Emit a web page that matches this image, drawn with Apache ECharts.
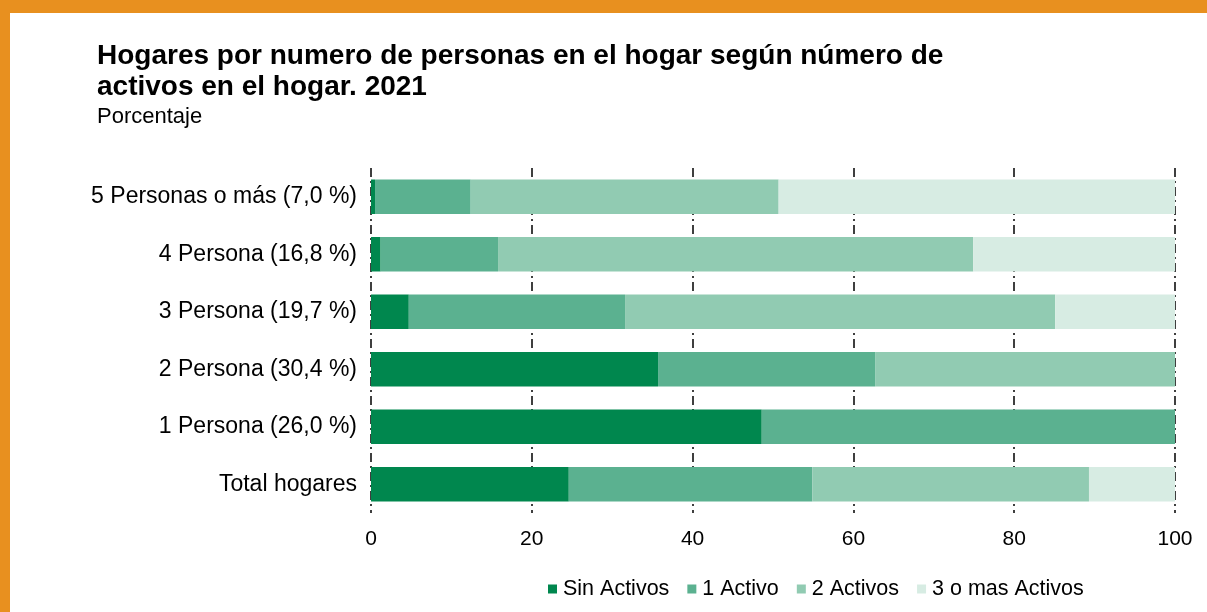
<!DOCTYPE html>
<html lang="es">
<head>
    <meta charset="UTF-8">
    <title>hogares activos</title>
    <script src="https://cdn.jsdelivr.net/npm/echarts@6/dist/echarts.min.js"></script>
    <style>
        body {
            margin: 0;
            background: #e8901f;
        }
        #chart {
            position: absolute;
            left: 10px;
            top: 13px;
            width: 1197px;
            height: 599px;
            background: #ffffff;
        }
    </style>
</head>
<body>
<div id="chart"></div>
<script>
    // categorias de arriba hacia abajo
    var categorias = ['5 Personas o más (7,0 %)', '4 Persona (16,8 %)', '3 Persona (19,7 %)',
        '2 Persona (30,4 %)', '1 Persona (26,0 %)', 'Total hogares'];
    var sinActivos = [0.5, 1.2, 4.7, 35.7, 48.6, 24.6];
    var unActivo = [11.9, 14.6, 26.9, 27.0, 51.4, 30.3];
    var dosActivos = [38.3, 59.1, 53.5, 37.3, 0, 34.4];
    var tresOMas = [49.3, 25.1, 14.9, 0, 0, 10.7];
    var colores = ['#00874e', '#5bb190', '#91cbb2', '#d7ece3'];

    var myChart = echarts.init(document.getElementById('chart'));
    var fuente = '"Liberation Sans", Arial, sans-serif';

    function serie(nombre, datos) {
        return {
            name: nombre,
            type: 'bar',
            stack: 'total',
            barWidth: '60%',
            data: datos
        };
    }

    myChart.setOption({
        color: colores,
        animation: false,
        title: {
            text: 'Hogares por numero de personas en el hogar según número de\nactivos en el hogar. 2021',
            subtext: 'Porcentaje',
            left: 82,
            top: 23,
            itemGap: 2,
            textStyle: {
                fontFamily: fuente,
                fontSize: 28,
                fontWeight: 'bold',
                color: '#000',
                lineHeight: 31
            },
            subtextStyle: {
                fontFamily: fuente,
                fontSize: 22,
                color: '#000',
                lineHeight: 24
            }
        },
        legend: {
            bottom: 7,
            left: 533,
            itemWidth: 9,
            itemHeight: 9,
            itemGap: 18,
            icon: 'rect',
            textStyle: {
                fontFamily: fuente,
                fontSize: 21.5,
                color: '#000',
                padding: [0, 0, 0, 1]
            },
            data: ['Sin Activos', '1 Activo', '2 Activos', '3 o mas Activos']
        },
        grid: {
            left: 361,
            right: 32,
            top: 155,
            bottom: 99,
            containLabel: false
        },
        xAxis: {
            type: 'value',
            min: 0,
            max: 100,
            interval: 20,
            axisLine: {show: false},
            axisTick: {show: false},
            axisLabel: {
                fontFamily: fuente,
                fontSize: 21,
                color: '#000',
                margin: 16
            },
            splitLine: {
                show: true,
                lineStyle: {
                    color: '#000',
                    width: 1.5,
                    type: [9, 4, 2, 4]
                }
            }
        },
        yAxis: {
            type: 'category',
            inverse: true,
            data: categorias,
            axisLine: {show: false},
            axisTick: {show: false},
            axisLabel: {
                fontFamily: fuente,
                fontSize: 23,
                color: '#000',
                margin: 14
            }
        },
        series: [
            serie('Sin Activos', sinActivos),
            serie('1 Activo', unActivo),
            serie('2 Activos', dosActivos),
            serie('3 o mas Activos', tresOMas)
        ]
    });
</script>
</body>
</html>
